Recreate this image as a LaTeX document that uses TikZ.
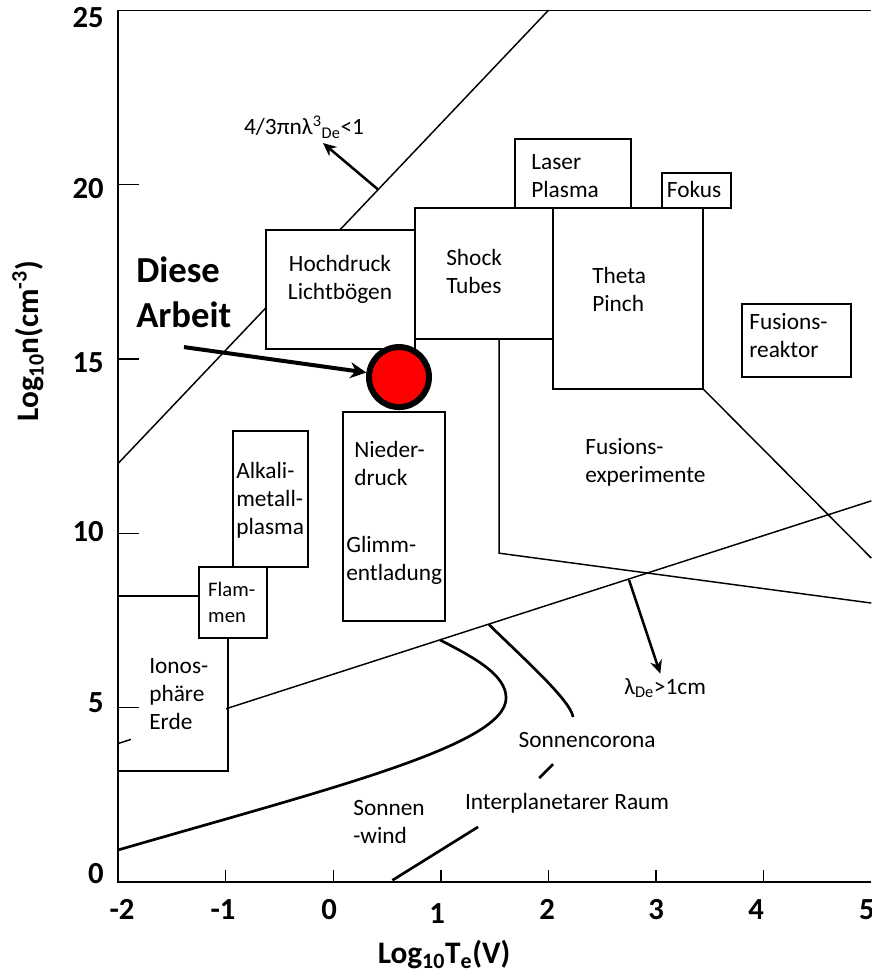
\documentclass[tikz,border=0pt]{standalone}
\usepackage{fontspec}
\setmainfont{Carlito}
\usetikzlibrary{arrows.meta,positioning}
\tikzset{
    axis line/.style={line width=1.1pt},
    thin line/.style={line width=1.1pt},
    region box/.style={draw,fill=white,line width=1.5pt},
    region text/.style={align=left,inner sep=0pt,anchor=west},
    solar curve/.style={line width=2pt},
    arr/.style={-{Stealth[length=10pt,width=9pt]},line width=1.9pt},
    big arr/.style={-{Stealth[length=12pt,width=12pt]},line width=3pt},
    tick label/.style={font=\fontsize{23}{27}\selectfont\bfseries,inner sep=0pt},
    axis title/.style={font=\fontsize{23.5}{28}\selectfont\bfseries,inner sep=0pt},
    small text/.style={font=\fontsize{15.5}{19}\selectfont},
    work point/.style={circle,draw,fill=red,line width=4.5pt,minimum size=45pt,inner sep=0pt},
}
\tikzstyle{every node}=[font=\fontsize{17.5}{21}\selectfont]

\begin{document}
\begin{tikzpicture}[x=80.7pt,y=26.15pt]
        \useasboundingbox (-3.0967,-2.638) rectangle (4.998,25.294);

        \draw[thin line] (-2,12) -- (2,25);
        \draw[thin line] (-2,3.97) -- (5,10.93);
        \draw[thin line] (1.541,15.57) -- (1.541,9.43) -- (5,8.0) (3.437,14.14) -- (5,9.29);
        \draw[thin line] (-2,8.2) -- (-1.247,8.2) (-0.978,7.0) -- (-0.978,3.18) -- (-2,3.18);

        \draw[region box] (-0.625,15.29) rectangle (0.760,18.70);
        \draw[region box] (0.760,15.57) rectangle (2.043,19.33);
        \draw[region box] (1.690,19.33) rectangle (2.768,21.31);
        \draw[region box] (3.056,19.33) rectangle (3.697,20.33);
        \draw[region box] (2.043,14.14) rectangle (3.437,19.33);
        \draw[region box] (3.799,14.48) rectangle (4.812,16.58);
        \draw[region box] (-0.931,9.03) rectangle (-0.234,12.93);
        \draw[region box] (-1.247,7.00) rectangle (-0.615,9.03);
        \draw[region box] (0.091,7.49) rectangle (1.039,13.48);

        \draw[solar curve] (-2,0.918) .. controls (-0.030,2.681) and (1.606,3.929) .. (1.606,5.277)
            .. controls (1.606,5.936) and (1.318,6.424) .. (0.993,6.94);
        \draw[solar curve] (1.448,7.38) .. controls (1.783,6.367) and (2.201,5.219) .. (2.229,4.732);
        \draw[solar curve] (0.55,0.05) -- (1.346,1.58) (1.913,2.98) -- (2.043,3.38);

        \node[align=center] (hochdruck) at (0.063,17.29) {Hochdruck\\Lichtbögen};
        \node[region text] (shock) at (1.048,17.52) {Shock\\Tubes};
        \node[region text] (laser) at (1.838,20.25) {Laser\\Plasma};
        \node (fokus) at (3.353,19.85) {Fokus};
        \node[region text] (theta) at (2.405,16.98) {Theta\\Pinch};
        \node[region text] (reaktor) at (3.864,15.66) {Fusions-\\reaktor};
        \node[region text] (experimente) at (2.340,12.03) {Fusions-\\experimente};
        \node[region text] (alkali) at (-0.903,10.95) {Alkali-\\metall-\\plasma};
        \node[region text,small text] (flammen) at (-1.164,8.02) {Flam-\\men};
        \node[region text] (nieder) at (0.193,11.99) {Nieder-\\druck};
        \node[region text] (glimm) at (0.119,9.21) {Glimm-\\entladung};
        \node[anchor=west,fill=white,align=left,inner xsep=13.5pt,inner ysep=10pt] (ionos)
            at (-1.879,5.39) {Ionos-\\phäre\\Erde};
        \node[region text] (wind) at (0.184,1.735) {Sonnen\\-wind};
        \node (corona) at (2.359,4.07) {Sonnencorona};
        \node (raum) at (2.173,2.27) {Interplanetarer Raum};

        \node (dichte) at (-0.271,21.65) {4/3πnλ\textsuperscript{3}\textsubscript{De}<1};
        \coordinate (dichte start) at (0.42,19.85);
        \draw[arr] (dichte start) -- (dichte);
        \node (debye) at (3.084,5.56) {λ\textsubscript{De}>1cm};
        \coordinate (debye start) at (2.749,8.66);
        \draw[arr] (debye start) -- (debye);

        \node[work point] (arbeit) at (0.611,14.48) {};
        \node[region text,font=\fontsize{27.5}{33.75}\selectfont\bfseries] (diese) at (-1.833,16.91) {Diese\\Arbeit};
        \coordinate (diese start) at (-1.387,15.34);
        \draw[big arr] (diese start) -- (arbeit);

        \draw[axis line] (-2,25) -- (-2,0) -- (5,0) (-2,25) -- (5,25);
        \foreach \n in {5,10,15,20} \draw[axis line] (-2,\n) -- +(0.195,0);
        \foreach \t in {-1,...,4} \draw[axis line] (\t,0) -- +(0,0.34);
        \foreach \n/\pos in {0/0.23,5/5.13,10/10.04,15/14.88,20/19.90,25/24.78}
            \node[tick label,anchor=east] (y\n) at (-2.13,\pos) {\n};
        \foreach \t/\pos in {-2/-1.963,-1/-1.024,0/-0.039,2/1.987,3/3.0,4/3.93,5/4.96}
            \node[tick label] (x\t) at (\pos,-0.78) {\t};
        \node[tick label] (x1) at (0.965,-0.89) {1};

        \node[axis title] (xtitle) at (1.03,-2.09) {Log\textsubscript{10}T\textsubscript{e}(V)};
        \node[axis title,rotate=90] (ytitle) at (-2.836,15.51) {Log\textsubscript{10}n(cm\textsuperscript{-3})};
\end{tikzpicture}
\end{document}
